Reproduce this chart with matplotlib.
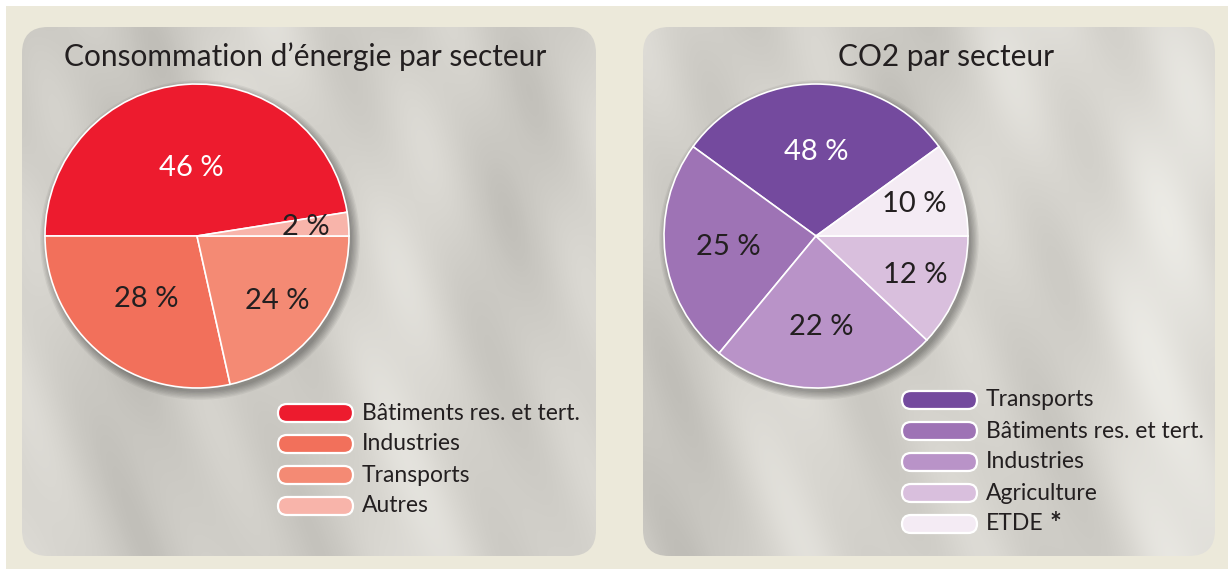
import numpy as np
import matplotlib.pyplot as plt
from matplotlib.patches import FancyBboxPatch, Circle, Rectangle
from matplotlib.colors import LinearSegmentedColormap

plt.rcParams['font.family'] = ['Lato', 'DejaVu Sans']

# --- data ---------------------------------------------------------------
energy_title = "Consommation d\u2019énergie par secteur"
energy_labels = ["Bâtiments res. et tert.", "Industries", "Transports", "Autres"]
energy_pct = [46, 28, 24, 2]            # values printed on the slices
energy_drawn = [47.5, 28.5, 21.5, 2.5]  # slice shares as drawn in the picture
energy_colors = ["#ed1b2e", "#f2705b", "#f48a74", "#f8b4aa"]

co2_title = "CO2 par secteur"
co2_labels = ["Transports", "Bâtiments res. et tert.", "Industries",
              "Agriculture", "ETDE"]
co2_pct = [48, 25, 22, 12, 10]          # values printed on the slices
co2_drawn = [30, 24, 24, 12, 10]        # slice shares as drawn in the picture
co2_colors = ["#744a9e", "#9e73b5", "#b993c8", "#d9bfdd", "#f4ebf4"]

# --- figure in pixel units (y up) --------------------------------------
W, H = 1228, 569
fig = plt.figure(figsize=(W / 100, H / 100), dpi=100)
fig.patch.set_facecolor("#ece9da")
ax = fig.add_axes([0, 0, 1, 1])
ax.set_facecolor("#ece9da")

# white strip on top and left edges
ax.add_patch(Rectangle((0, H - 6), W, 6, fc="white", ec="none", zorder=0))
ax.add_patch(Rectangle((0, 0), 6, H, fc="white", ec="none", zorder=0))

# silky grey panel texture (mostly vertical folds)
satin = LinearSegmentedColormap.from_list(
    "satin", ["#aeaca6", "#c8c6c0", "#dad8d2", "#eeede8"])
X, Y = np.meshgrid(np.arange(W), np.arange(H))
tex = (0.58
       + 0.11 * np.sin(X / 30.0 + 0.9 * np.sin(Y / 130.0))
       + 0.08 * np.sin(X / 64.0 + Y / 210.0 + 1.0)
       + 0.04 * np.sin((X + 0.5 * Y) / 14.0))


def panel(x0, x1, lighten):
    box = FancyBboxPatch((x0, 13), x1 - x0, 529,
                         boxstyle="round,pad=0,rounding_size=26",
                         fc="none", ec="none", zorder=1)
    ax.add_patch(box)
    sub = tex[:, x0:x1] + lighten * (X[:, x0:x1] - x0) / (x1 - x0)
    im = ax.imshow(sub, cmap=satin, vmin=0.25, vmax=1.0, origin="lower",
                   extent=(x0, x1, 0, H), interpolation="bilinear", zorder=1)
    im.set_clip_path(box)


panel(22, 596, 0.10)
panel(643, 1215, 0.18)


def draw_pie(cx, cy, shares, pct, colors, lab_r, start):
    # soft shadow, mostly towards the lower right
    for k in range(7):
        ax.add_patch(Circle((cx + 3, cy - 4), 152 + k * 1.3, fc="black",
                            alpha=0.05, ec="none", zorder=2))
    wedges, _ = ax.pie(shares, colors=colors, startangle=start,
                       center=(cx, cy), radius=152, frame=True,
                       wedgeprops=dict(edgecolor="white", linewidth=1.2,
                                       zorder=3))
    for i, w in enumerate(wedges):
        w.set_zorder(3)
        a = np.deg2rad((w.theta1 + w.theta2) / 2)
        r = lab_r[i] * 152
        ax.text(cx + r * np.cos(a), cy + r * np.sin(a), f"{pct[i]} %",
                ha="center", va="center", fontsize=21,
                color="white" if i == 0 else "#231f20", zorder=4)


draw_pie(197, 333, energy_drawn, energy_pct, energy_colors,
         [0.45, 0.53, 0.68, 0.72], 360 * energy_drawn[-1] / 100)
draw_pie(816, 333, co2_drawn, co2_pct, co2_colors,
         [0.55, 0.58, 0.60, 0.70, 0.68], 360 * co2_drawn[-1] / 100)

# titles
ax.text(305, 512, energy_title, ha="center", va="center", fontsize=21.5,
        color="#231f20", zorder=4)
ax.text(946, 512, co2_title, ha="center", va="center", fontsize=21.5,
        color="#231f20", zorder=4)


def legend(x0, y_top, labels, colors):
    for i, (lab, col) in enumerate(zip(labels, colors)):
        yc = H - (y_top + 31 * i)
        ax.add_patch(FancyBboxPatch((x0, yc - 9), 75, 18,
                                    boxstyle="round,pad=0,rounding_size=9",
                                    fc=col, ec="white", lw=1.6, zorder=4))
        t = ax.text(x0 + 84, yc, lab, ha="left", va="center", fontsize=16.5,
                    color="#231f20", zorder=4)
    return t


legend(278, 413, energy_labels, energy_colors)
last = legend(902, 400, co2_labels, co2_colors)
ax.annotate("*", xy=(1, 1), xycoords=last, xytext=(4, 2),
            textcoords="offset points", ha="left", va="top", fontsize=20,
            fontweight="bold", color="#231f20", zorder=4)

ax.set_xlim(0, W)
ax.set_ylim(0, H)
ax.axis("off")

fig.savefig("out.png", dpi=100, facecolor=fig.get_facecolor())
